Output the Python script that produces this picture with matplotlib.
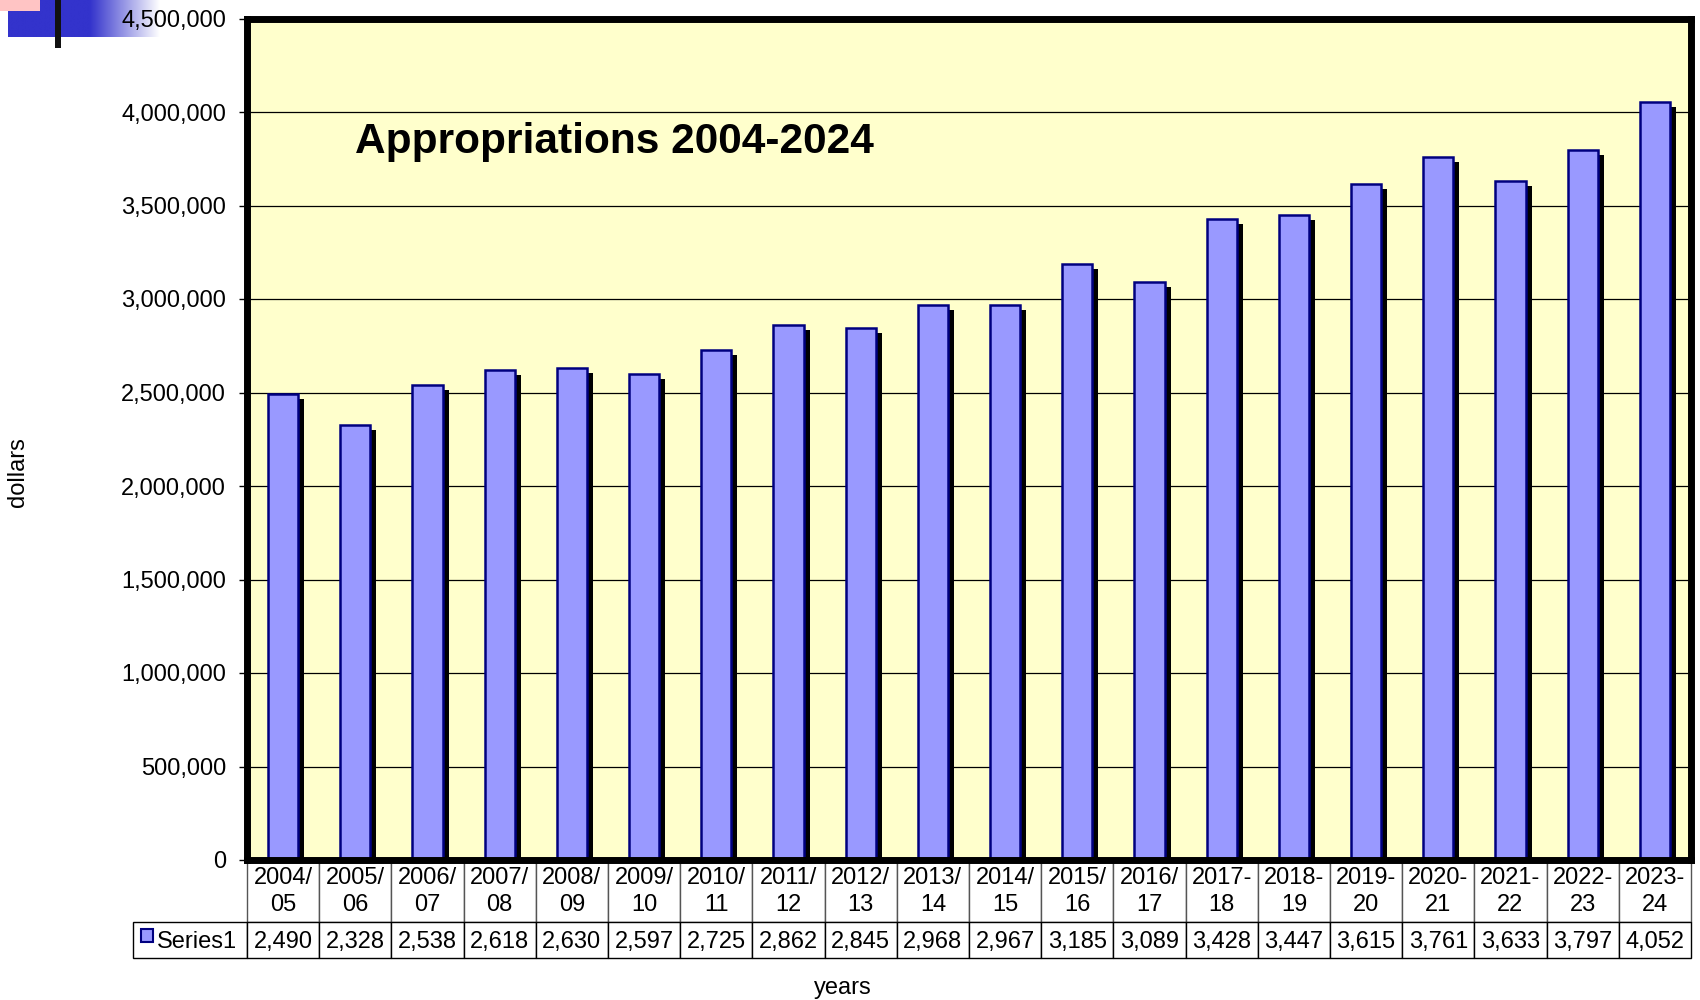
import numpy as np
import matplotlib
matplotlib.use("Agg")
import matplotlib.pyplot as plt
import matplotlib.patheffects as pe
from matplotlib.patches import Rectangle

plt.rcParams['font.family'] = ['Liberation Sans', 'DejaVu Sans']

years = ['2004/\n05', '2005/\n06', '2006/\n07', '2007/\n08', '2008/\n09',
         '2009/\n10', '2010/\n11', '2011/\n12', '2012/\n13', '2013/\n14',
         '2014/\n15', '2015/\n16', '2016/\n17', '2017-\n18', '2018-\n19',
         '2019-\n20', '2020-\n21', '2021-\n22', '2022-\n23', '2023-\n24']
# thousands of dollars
series1 = [2490, 2328, 2538, 2618, 2630, 2597, 2725, 2862, 2845, 2968,
           2967, 3185, 3089, 3428, 3447, 3615, 3761, 3633, 3797, 4052]
yticks = [0, 500000, 1000000, 1500000, 2000000, 2500000, 3000000,
          3500000, 4000000, 4500000]

bar_face = '#9999FF'
bar_edge = '#000080'

fig = plt.figure(figsize=(17, 10), dpi=100)
ax = fig.add_axes([247/1700, 0.140, 1444/1700, 0.8415])
ax.set_facecolor('#FFFFCC')

x = np.arange(len(series1))
dollars = np.array(series1) * 1000
ax.bar(x, dollars, width=0.42, color=bar_face, edgecolor=bar_edge, linewidth=1.8,
       path_effects=[pe.SimplePatchShadow(offset=(4.3, -3.6), shadow_rgbFace='black', alpha=1.0),
                     pe.Normal()])

ax.set_xlim(-0.5, len(series1) - 0.5)
ax.set_ylim(0, 4500000)
ax.set_yticks(yticks)
ax.set_yticklabels([f'{v:,}' for v in yticks], fontsize=17)
ax.tick_params(axis='y', direction='out', length=6, width=1, pad=9)
ax.set_xticks([])
ax.set_axisbelow(True)
ax.grid(axis='y', color='black', linewidth=0.9)
for s in ax.spines.values():
    s.set_linewidth(5)
    s.set_color('black')

ax.text(0.0748, 0.853, 'Appropriations 2004-2024', transform=ax.transAxes,
        fontsize=30.5, fontweight='bold', va='center', ha='left')

# data table under the plot (sizes in axes fractions)
head_h = 60 / 841.5
row_h = 36 / 841.5
tbl = ax.table(cellText=[[f'{v:,}' for v in series1]], rowLabels=['Series1'],
               colLabels=years, cellLoc='center', rowLoc='left',
               bbox=[0, -(head_h + row_h) - 0.002, 1.0, head_h + row_h])
tbl.auto_set_font_size(False)
tbl.set_fontsize(17)
for (r, c), cell in tbl.get_celld().items():
    cell.set_linewidth(1.0)
    cell.set_edgecolor('black')
    if c == -1:
        cell.set_width(113 / 1444)
        cell.PAD = 0.21
    else:
        cell.set_width(1 / len(series1))
    cell.set_height(head_h if r == 0 else row_h)
    if r == 0:
        cell.set_edgecolor('#555555')
        cell.get_text().set_linespacing(1.3)
    else:
        cell.get_text().set_va('center_baseline')

fig.add_artist(Rectangle((141/1700, 1 - 942/1000), 12/1700, 13/1000,
                         facecolor=bar_face, edgecolor=bar_edge, linewidth=1.5,
                         transform=fig.transFigure))

fig.text(18/1700, 1 - 472/1000, 'dollars', rotation=90, fontsize=17,
         ha='center', va='center')
fig.text(843/1700, 1 - 988/1000, 'years', fontsize=17, ha='center', va='center')

# slide decoration in the top-left corner
deco = fig.add_axes([8/1700, 1 - 37/1000, 152/1700, 37/1000])
deco.set_zorder(-1)
deco.axis('off')
t = np.linspace(0, 1, 300)
a = np.clip((1 - t) / 0.46, 0, 1)
blue = np.array([0x33, 0x33, 0xCC]) / 255
img = blue[None, :] * a[:, None] + (1 - a[:, None])
deco.imshow(img[None, :, :], aspect='auto', extent=[0, 1, 0, 1])
fig.add_artist(Rectangle((0, 1 - 11/1000), 40/1700, 11/1000, facecolor='#FFC4C4',
                         edgecolor='none', transform=fig.transFigure))
fig.add_artist(Rectangle((55/1700, 1 - 48/1000), 6/1700, 48/1000, facecolor='#111111',
                         edgecolor='none', transform=fig.transFigure))

fig.savefig('out.png', dpi=100)
